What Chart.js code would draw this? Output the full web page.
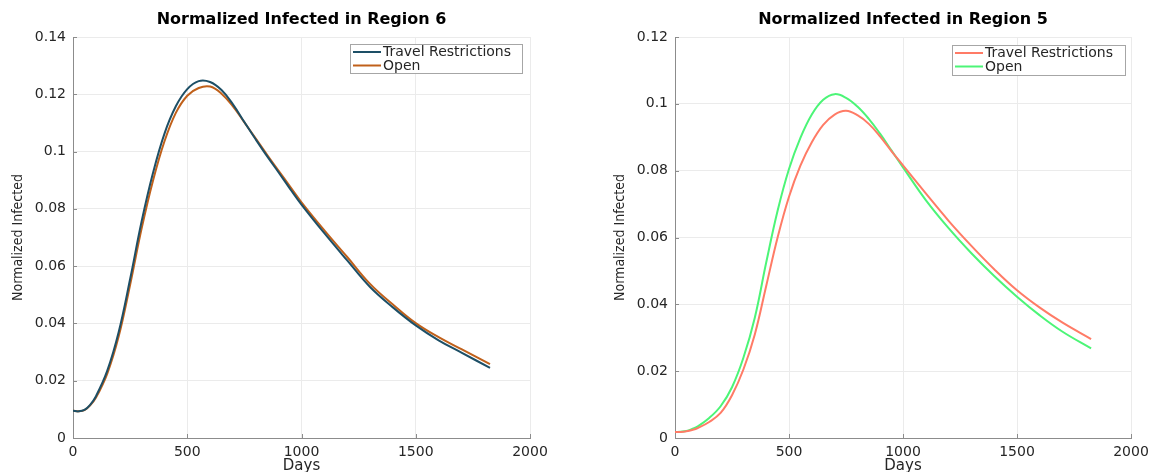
<!DOCTYPE html>
<html>
<head>
<meta charset="utf-8">
<script src="https://cdn.jsdelivr.net/npm/chart.js@4.4.2/dist/chart.umd.min.js"></script>
<style>
  html, body { margin: 0; padding: 0; background: #fff; }
  #wrap { position: relative; width: 1159px; height: 472px; }
  canvas { position: absolute; top: 0; }
</style>
</head>
<body>
<div id="wrap">
  <canvas id="region6" width="580" height="472" style="left:0"></canvas>
  <canvas id="region5" width="579" height="472" style="left:580px"></canvas>
</div>
<script>
const DAYS = [0, 25, 50, 75, 100, 150, 200, 250, 300, 350, 400, 450, 500, 550, 600, 650,
  700, 750, 800, 850, 900, 950, 1000, 1100, 1200, 1300, 1400, 1500, 1600, 1700, 1825];

// Region 6
const TRAVEL_R6 = [0.0095, 0.0093, 0.0098, 0.0116, 0.0145, 0.0235, 0.037, 0.0555, 0.0755, 0.0925,
  0.1062, 0.1158, 0.1218, 0.1246, 0.1243, 0.1215, 0.1165, 0.1103, 0.1042, 0.0983, 0.0927, 0.087,
  0.0815, 0.0715, 0.062, 0.0527, 0.0456, 0.0393, 0.0341, 0.0298, 0.0245];
const OPEN_R6 = [0.0095, 0.0093, 0.0097, 0.0114, 0.014, 0.0225, 0.0355, 0.0535, 0.073, 0.0898,
  0.1035, 0.1135, 0.1195, 0.1222, 0.1227, 0.1202, 0.1158, 0.1102, 0.1045, 0.0988, 0.0933, 0.0878,
  0.0823, 0.0725, 0.0632, 0.0538, 0.0466, 0.0401, 0.0352, 0.031, 0.0258];

// Region 5
const TRAVEL_R5 = [0.0018, 0.0018, 0.002, 0.0024, 0.003, 0.0048, 0.0075, 0.0128, 0.0205, 0.031,
  0.0455, 0.06, 0.0722, 0.0815, 0.0885, 0.0937, 0.0968, 0.0979, 0.0966, 0.094, 0.0902, 0.0858,
  0.0816, 0.0732, 0.065, 0.0575, 0.0505, 0.0442, 0.039, 0.0345, 0.0296];
const OPEN_R5 = [0.0018, 0.0019, 0.0021, 0.0027, 0.0035, 0.006, 0.0095, 0.0152, 0.024, 0.036,
  0.0525, 0.068, 0.0805, 0.0898, 0.0968, 0.1012, 0.1029, 0.1018, 0.0992, 0.0955, 0.091, 0.086,
  0.081, 0.0712, 0.0628, 0.0553, 0.0485, 0.0423, 0.0367, 0.0318, 0.0268];

const SERIES_LABELS = ['Travel Restrictions', 'Open'];

const toPoints = (ys) => ys.map((y, i) => ({x: DAYS[i], y: y}));

// title centred over the plot area rather than the whole canvas
const plotTitle = {
  id: 'plotTitle',
  afterDraw(chart, args, opts) {
    const {ctx, chartArea} = chart;
    ctx.save();
    ctx.font = 'bold 16px "DejaVu Sans"';
    ctx.fillStyle = '#000';
    ctx.textAlign = 'center';
    ctx.textBaseline = 'middle';
    ctx.fillText(opts.text, (chartArea.left + chartArea.right) / 2, 20);
    ctx.restore();
  }
};

// legend drawn as a boxed overlay inside the plot, top right
const boxLegend = {
  id: 'boxLegend',
  afterDraw(chart, args, opts) {
    const {ctx, chartArea} = chart;
    const x = chartArea.right - opts.right - opts.width;
    const y = chartArea.top + opts.top;
    ctx.save();
    ctx.fillStyle = '#fff';
    ctx.fillRect(x, y, opts.width, opts.height);
    ctx.strokeStyle = '#a6a6a6';
    ctx.lineWidth = 1;
    ctx.strokeRect(x + 0.5, y + 0.5, opts.width, opts.height);
    ctx.font = '14px "DejaVu Sans"';
    ctx.textBaseline = 'middle';
    chart.data.datasets.forEach((ds, i) => {
      const cy = y + 8 + i * 13.5;
      ctx.strokeStyle = ds.borderColor;
      ctx.lineWidth = 2;
      ctx.beginPath();
      ctx.moveTo(x + 3, cy);
      ctx.lineTo(x + 31, cy);
      ctx.stroke();
      ctx.fillStyle = '#262626';
      ctx.fillText(ds.label, x + 33, cy + 0.5);
    });
    ctx.restore();
  }
};

// small inward tick marks, matlab style
const innerTicks = {
  id: 'innerTicks',
  afterDraw(chart) {
    const {ctx, chartArea, scales} = chart;
    ctx.save();
    ctx.strokeStyle = '#8c8c8c';
    ctx.lineWidth = 1;
    ctx.beginPath();
    scales.x.ticks.forEach(t => {
      const px = Math.round(scales.x.getPixelForValue(t.value)) + 0.5;
      ctx.moveTo(px, chartArea.bottom);
      ctx.lineTo(px, chartArea.bottom - 4);
    });
    scales.y.ticks.forEach(t => {
      const py = Math.round(scales.y.getPixelForValue(t.value)) + 0.5;
      ctx.moveTo(chartArea.left, py);
      ctx.lineTo(chartArea.left + 4, py);
    });
    ctx.stroke();
    ctx.restore();
  }
};

function makeChart(id, title, series, colors, opts) {
  const ctx = document.getElementById(id).getContext('2d');
  return new Chart(ctx, {
    type: 'line',
    data: {
      datasets: series.map((ys, i) => ({
        label: SERIES_LABELS[i],
        data: toPoints(ys),
        borderColor: colors[i],
        borderWidth: 2,
        pointRadius: 0,
        fill: false,
        tension: 0.4
      }))
    },
    options: {
      responsive: false,
      animation: false,
      layout: {padding: {left: 0, right: opts.padRight, top: 37, bottom: 0}},
      plugins: {
        legend: {display: false},
        tooltip: {enabled: false},
        title: {display: false},
        plotTitle: {text: title},
        boxLegend: opts.legend
      },
      scales: {
        x: {
          type: 'linear',
          min: 0,
          max: 2000,
          afterFit: (s) => { s.height = 34; },
          ticks: {
            stepSize: 500,
            color: '#262626',
            padding: 6,
            maxRotation: 0,
            font: {family: 'DejaVu Sans', size: 14},
            callback: (v) => String(v)
          },
          grid: {color: '#ebebeb', tickLength: 0},
          border: {color: '#8c8c8c', width: 1},
          title: {
            display: true,
            text: 'Days',
            color: '#262626',
            font: {family: 'DejaVu Sans', size: 15},
            padding: {top: 0, bottom: -3}
          }
        },
        y: {
          min: 0,
          max: opts.yMax,
          afterFit: (s) => { s.width = opts.axisWidth; },
          ticks: {
            stepSize: 0.02,
            color: '#262626',
            padding: 7,
            font: {family: 'DejaVu Sans', size: 14},
            callback: (v) => String(+v.toFixed(2))
          },
          grid: {color: '#ebebeb', tickLength: 0},
          border: {color: '#8c8c8c', width: 1},
          title: {
            display: true,
            text: 'Normalized Infected',
            color: '#262626',
            font: {family: 'DejaVu Sans Condensed', size: 14},
            padding: {top: opts.yTitlePad, bottom: 0}
          }
        }
      }
    },
    plugins: [plotTitle, boxLegend, innerTicks]
  });
}

makeChart('region6', 'Normalized Infected in Region 6',
  [TRAVEL_R6, OPEN_R6], ['#1d4f66', '#c0601a'],
  {padRight: 50, axisWidth: 73, yMax: 0.14, yTitlePad: 10,
    legend: {width: 172, height: 29, right: 8, top: 7}});

makeChart('region5', 'Normalized Infected in Region 5',
  [TRAVEL_R5, OPEN_R5], ['#ff7b66', '#4cf577'],
  {padRight: 28, axisWidth: 95, yMax: 0.12, yTitlePad: 32,
    legend: {width: 173, height: 30, right: 6, top: 8}});
</script>
</body>
</html>
